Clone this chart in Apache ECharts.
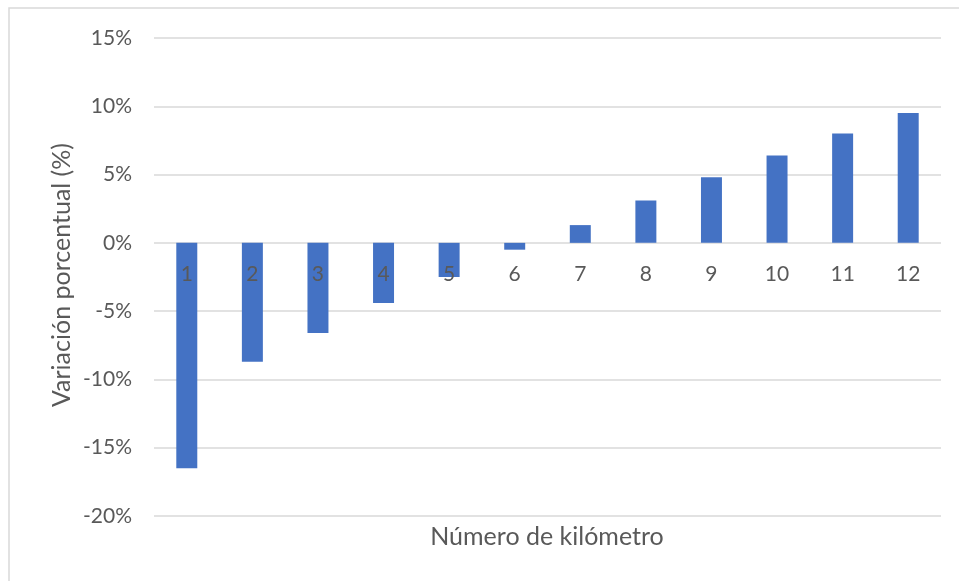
<!DOCTYPE html>
<html>
<head>
<meta charset="utf-8">
<script src="https://cdn.jsdelivr.net/npm/echarts@6/dist/echarts.min.js"></script>
<style>
  html, body { margin: 0; padding: 0; background: #fff; }
  #chart { width: 959px; height: 581px; }
</style>
</head>
<body>
<div id="chart"></div>
<script>
// Kilometre numbers along the route
const kilometros = ['1', '2', '3', '4', '5', '6', '7', '8', '9', '10', '11', '12'];
// Percentage variation per kilometre
const variacion = [-16.5, -8.7, -6.6, -4.4, -2.5, -0.5, 1.3, 3.1, 4.8, 6.4, 8.0, 9.5];
// Value axis range
const yMin = -20;
const yMax = 15;
const yStep = 5;

const FONT = 'Lato';
const GREY = '#595959';

const W = 959, H = 581;
const gridTop = 38, gridBottom = 65;
const plotH = H - gridTop - gridBottom;
// Shift the category axis up so its labels sit just under the 0% line
const zeroShift = plotH * (0 - yMin) / (yMax - yMin);

const chart = echarts.init(document.getElementById('chart'), null, { renderer: 'canvas' });

chart.setOption({
  backgroundColor: '#ffffff',
  animation: false,
  textStyle: { fontFamily: FONT },
  grid: { left: 154, right: 18, top: gridTop, bottom: gridBottom, containLabel: false },
  graphic: [
    {
      type: 'rect',
      shape: { x: 9, y: 8, width: 980, height: 600 },
      style: { fill: 'none', stroke: '#d9d9d9', lineWidth: 1.5 },
      silent: true
    },
    {
      type: 'text',
      x: 547, y: 537,
      style: {
        text: 'Número de kilómetro',
        align: 'center', verticalAlign: 'middle',
        font: '25px ' + FONT, fill: GREY
      }
    },
    {
      type: 'text',
      rotation: Math.PI / 2,
      x: 62, y: 275,
      style: {
        text: 'Variación porcentual (%)',
        align: 'center', verticalAlign: 'middle',
        font: '25px ' + FONT, fill: GREY
      }
    }
  ],
  xAxis: {
    type: 'category',
    data: kilometros,
    z: 10,
    offset: -zeroShift,
    axisLine: { show: false },
    axisTick: { show: false },
    axisLabel: { color: GREY, fontSize: 21, margin: 21, fontFamily: FONT }
  },
  yAxis: {
    type: 'value',
    min: yMin,
    max: yMax,
    interval: yStep,
    axisLine: { show: false },
    axisTick: { show: false },
    axisLabel: { color: GREY, fontSize: 21, margin: 22, formatter: '{value}%', fontFamily: FONT },
    splitLine: { lineStyle: { color: '#d9d9d9', width: 1.5 } }
  },
  series: [{
    type: 'bar',
    data: variacion,
    barWidth: '32%',
    itemStyle: { color: '#4472c4' }
  }]
});
</script>
</body>
</html>
